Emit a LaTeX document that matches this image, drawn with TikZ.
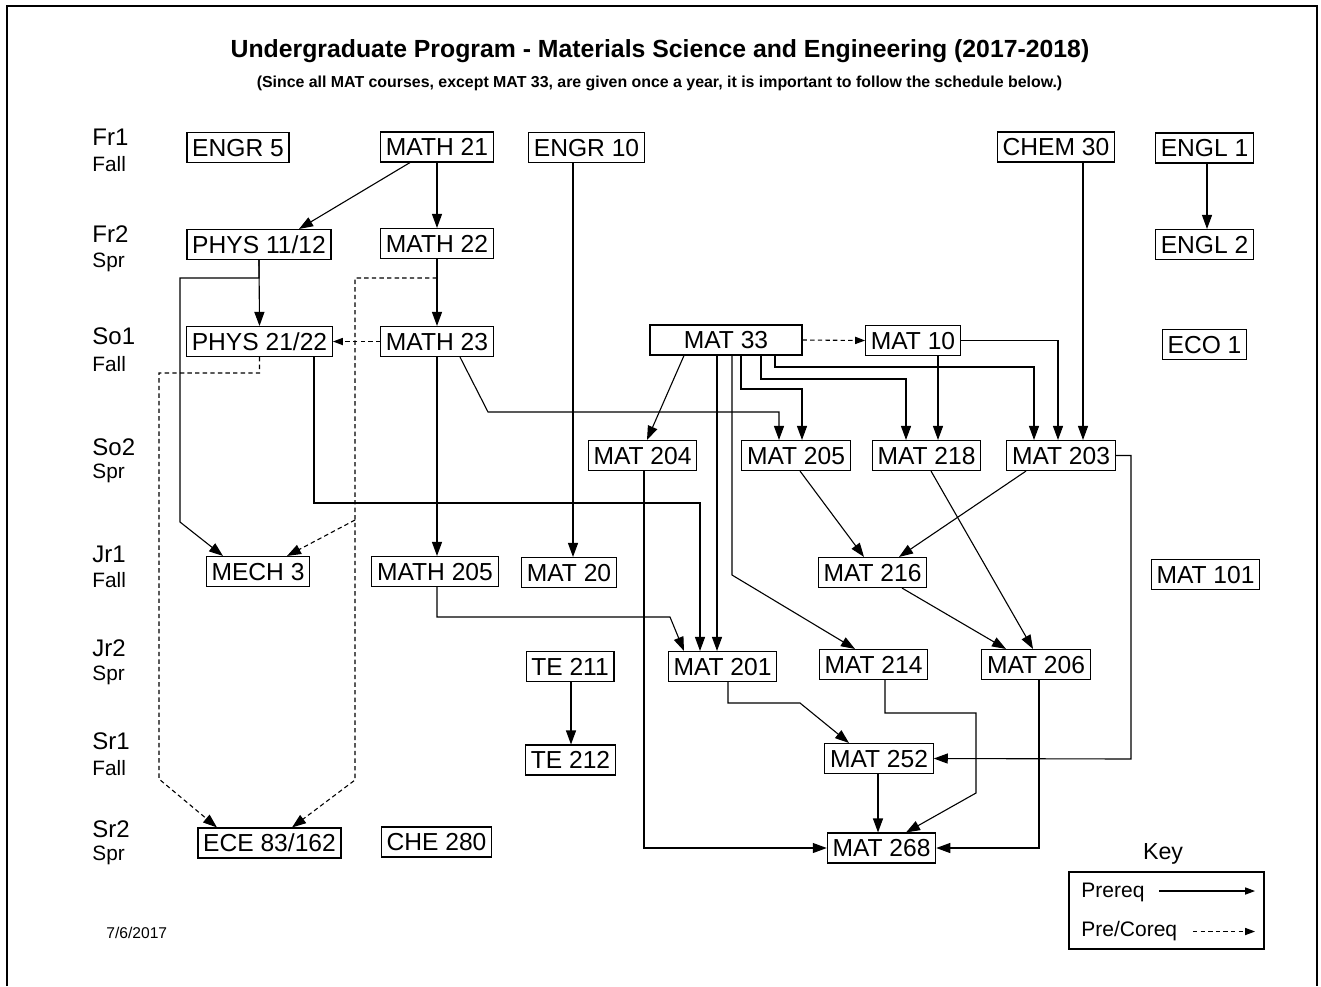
\documentclass[tikz,border=0pt]{standalone}
\usepackage{fontspec}
\setmainfont{Liberation Sans}
\usetikzlibrary{arrows.meta}
\begin{document}
\begin{tikzpicture}[x=0.5pt,y=-0.5pt,
  box/.style={draw,line width=0.55pt,font=\fontsize{12.3}{14}\selectfont,inner xsep=2.6pt,inner ysep=0pt,minimum height=15pt,text height=8.9pt,text depth=0pt},
  pre/.style={line width=0.55pt,-{Triangle[length=7pt,width=5pt]}},
  co/.style={line width=0.55pt,dash pattern=on 2.2pt off 1.6pt,-{Triangle[length=7pt,width=5pt]}},
  cosmall/.style={co,-{Triangle[length=5pt,width=3.6pt]}},
  keyarrow/.style={line width=0.55pt,-{Triangle[length=5pt,width=3.6pt]}},
  yr/.style={anchor=base west,inner sep=0pt,font=\fontsize{12}{14}\selectfont},
  sem/.style={anchor=base west,inner sep=0pt,font=\fontsize{10.4}{12}\selectfont},
]
\useasboundingbox (0,0) rectangle (1321,986);
\draw[line width=1pt] (7,986) -- (7,6) -- (1317,6) -- (1317,986);

% title
\node[anchor=base,inner sep=0pt,font=\fontsize{12.4}{15}\selectfont\bfseries] (title) at (660,57) {Undergraduate Program - Materials Science and Engineering (2017-2018)};
\node[anchor=base,inner sep=0pt,font=\fontsize{7.95}{9}\selectfont\bfseries] (subtitle) at (659.5,87.5) {(Since all MAT courses, except MAT 33, are given once a year, it is important to follow the schedule below.)};

% row labels
\node[yr] (l1) at (92,145) {Fr1};  \node[sem] (s1) at (92,171) {Fall};
\node[yr] (l2) at (92,242) {Fr2};  \node[sem] (s2) at (92,267) {Spr};
\node[yr] (l3) at (92,344) {So1};  \node[sem] (s3) at (92,371) {Fall};
\node[yr] (l4) at (92,455) {So2};  \node[sem] (s4) at (92,478) {Spr};
\node[yr] (l5) at (92,562) {Jr1};  \node[sem] (s5) at (92,587) {Fall};
\node[yr] (l6) at (92,656) {Jr2};  \node[sem] (s6) at (92,680) {Spr};
\node[yr] (l7) at (92,749) {Sr1};  \node[sem] (s7) at (92,775) {Fall};
\node[yr] (l8) at (92,837) {Sr2};  \node[sem] (s8) at (92,860) {Spr};

% courses
\node[box] (ENGR5) at (238,147.5) {ENGR 5};
\node[box] (MATH21) at (437,147) {MATH 21};
\node[box] (ENGR10) at (586.5,147.5) {ENGR 10};
\node[box] (CHEM30) at (1056,147) {CHEM 30};
\node[box] (ENGL1) at (1204.5,148) {ENGL 1};
\node[box] (PHYS1112) at (259,244.5) {PHYS 11/12};
\node[box] (MATH22) at (437,243.5) {MATH 22};
\node[box] (ENGL2) at (1204.5,244.5) {ENGL 2};
\node[box] (PHYS2122) at (259.5,341.5) {PHYS 21/22};
\node[box] (MATH23) at (437,341.5) {MATH 23};
\node[box,minimum width=76pt] (MAT33) at (726,340) {MAT 33};
\node[box] (MAT10) at (913,340.5) {MAT 10};
\node[box] (ECO1) at (1204.5,344.5) {ECO 1};
\node[box] (MAT204) at (642.5,455.5) {MAT 204};
\node[box] (MAT205) at (796,455.5) {MAT 205};
\node[box] (MAT218) at (926.5,455.5) {MAT 218};
\node[box] (MAT203) at (1061,455.5) {MAT 203};
\node[box] (MECH3) at (258,571.5) {MECH 3};
\node[box] (MATH205) at (435,571.5) {MATH 205};
\node[box] (MAT20) at (569,572.5) {MAT 20};
\node[box] (MAT216) at (872.5,572.5) {MAT 216};
\node[box] (MAT101) at (1205.5,574.5) {MAT 101};
\node[box] (TE211) at (570,666.5) {TE 211};
\node[box] (MAT201) at (722.5,666.5) {MAT 201};
\node[box] (MAT214) at (873.5,664.5) {MAT 214};
\node[box] (MAT206) at (1036,664.5) {MAT 206};
\node[box] (TE212) at (570.5,760) {TE 212};
\node[box] (MAT252) at (879,758.5) {MAT 252};
\node[box] (ECE) at (269.5,843) {ECE 83/162};
\node[box] (CHE280) at (436.5,842) {CHE 280};
\node[box] (MAT268) at (881.5,848) {MAT 268};

% prerequisites
\draw[pre] (MATH21.south -| 410,0) -- (PHYS1112.north -| 299,0);
\draw[pre] (MATH21.south) -- (MATH22.north);
\draw[pre] (MATH22.south) -- (MATH23.north);
\draw[pre] (ENGR10.south -| 573,0) -- (MAT20.north -| 573,0);
\draw[pre] (CHEM30.south -| 1083,0) -- (MAT203.north -| 1083,0);
\draw[pre] (ENGL1.south -| 1207,0) -- (ENGL2.north -| 1207,0);
\draw[pre] (PHYS1112.south) -- (PHYS2122.north);
\draw[pre] (PHYS1112.south) |- (180,278) -- (180,522) -- (MECH3.north -| 223,0);
\draw[pre] (PHYS2122.south -| 314,0) |- (700,503) -- (MAT201.north -| 700,0);
\draw[pre] (MATH23.south) -- (MATH23.south |- MATH205.north);
\draw[pre] (MATH23.south -| 460,0) -- (488,412) -- (779,412) -- (MAT205.north -| 779,0);
\draw[pre] (MAT33.south -| 684,0) -- (MAT204.north -| 647,0);
\draw[pre] (MAT33.south -| 717,0) -- (MAT201.north -| 717,0);
\draw[pre] (MAT33.south -| 732,0) -- (732,575) -- (MAT214.north -| 855,0);
\draw[pre] (MAT33.south -| 741,0) |- (802,389) -- (MAT205.north -| 802,0);
\draw[pre] (MAT33.south -| 761,0) |- (906,379) -- (MAT218.north -| 906,0);
\draw[pre] (MAT33.south -| 775,0) |- (1034,367) -- (MAT203.north -| 1034,0);
\draw[pre] (MAT10.south -| 938,0) -- (MAT218.north -| 938,0);
\draw[pre] (MAT10.east) -| (MAT203.north -| 1058,0);
\draw[pre] (MAT205.south -| 800,0) -- (MAT216.north -| 864,0);
\draw[pre] (MAT203.south -| 1026,0) -- (MAT216.north -| 899,0);
\draw[pre] (MAT218.south -| 931,0) -- (MAT206.north -| 1033,0);
\draw[pre] (MAT216.south -| 902,0) -- (MAT206.north -| 1006,0);
\draw[pre] (MAT203.east) -| (1131,759) -- (MAT252.east);
\draw[pre] (MAT204.south -| 644,0) |- (MAT268.west);
\draw[pre] (MATH205.south -| 437,0) |- (670,617) -- (MAT201.north -| 684,0);
\draw[pre] (MAT201.south -| 728,0) |- (800,703) -- (MAT252.north -| 849,0);
\draw[pre] (MAT214.south -| 885,0) |- (976,713) -- (976,793) -- (MAT268.north -| 906,0);
\draw[pre] (MAT252.south -| 878,0) -- (MAT268.north -| 878,0);
\draw[pre] (MAT206.south -| 1039,0) |- (MAT268.east);
\draw[pre] (TE211.south -| 571,0) -- (TE212.north -| 571,0);

% pre/corequisites
\coordinate (dj) at (355,520);
\draw[co] (MATH22.south |- 0,278) -- (355,278) -- (355,780) -- (ECE.north -| 292,0);
\draw[co] (dj) -- (MECH3.north -| 287,0);
\draw[co] (PHYS2122.south) |- (159,373) -- (159,779) -- (ECE.north -| 217,0);
\draw[cosmall] (MATH23.west) -- (PHYS2122.east);
\draw[cosmall] (MAT33.east) -- (MAT10.west);

% key
\node[anchor=base,inner sep=0pt,font=\fontsize{11.6}{14}\selectfont] (keytitle) at (1163,859) {Key};
\node[draw,line width=0.6pt,minimum width=97.5pt,minimum height=38.5pt,inner sep=0pt] (keybox) at (1166.5,910.5) {};
\node[anchor=base west,inner sep=0pt,font=\fontsize{10.5}{12}\selectfont] (kpre) at (1081,897) {Prereq};
\node[anchor=base west,inner sep=0pt,font=\fontsize{10.5}{12}\selectfont] (kco) at (1081,936) {Pre/Coreq};
\coordinate (ka1) at (1159,891); \coordinate (ka2) at (1255,891);
\coordinate (kb1) at (1193,931.5); \coordinate (kb2) at (1255,931.5);
\draw[keyarrow] (ka1) -- (ka2);
\draw[keyarrow,dash pattern=on 2.2pt off 1.6pt] (kb1) -- (kb2);

\node[anchor=base west,inner sep=0pt,font=\fontsize{7.8}{9}\selectfont] (date) at (106,938) {7/6/2017};
\end{tikzpicture}
\end{document}
